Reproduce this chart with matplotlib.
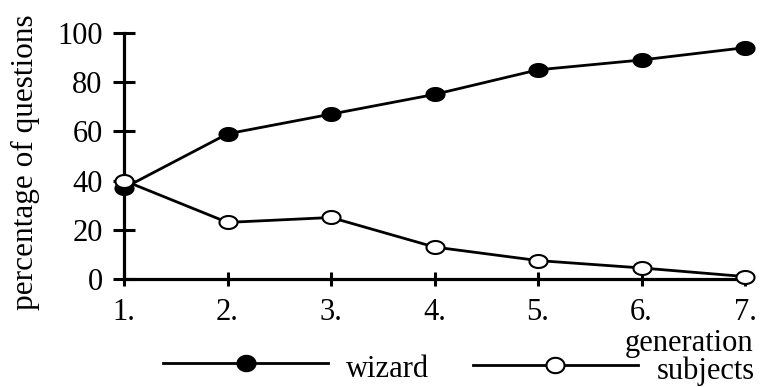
import numpy as np
import matplotlib
matplotlib.use("Agg")
import matplotlib.pyplot as plt
from matplotlib.path import Path
from matplotlib.lines import Line2D

generations = [1, 2, 3, 4, 5, 6, 7]
tick_labels = ["1.", "2.", "3.", "4.", "5.", "6.", "7."]
wizard = [37, 59, 67, 75, 85, 89, 94]
subjects = [40, 23, 25, 13, 7.5, 4.5, 1]

plt.rcParams['font.family'] = ['Liberation Serif', 'DejaVu Serif']
FS = 22


def ellipse_marker(ratio):
    t = np.linspace(0, 2 * np.pi, 60)
    return Path(np.column_stack([np.cos(t), ratio * np.sin(t)]), closed=True)


plot_marker = ellipse_marker(0.72)
legend_marker = ellipse_marker(0.85)

fig = plt.figure(figsize=(7.61, 3.87), dpi=100)
ax = fig.add_axes([0.163, 0.279, 0.816, 0.636])

lw = 2.0
ax.plot(generations, wizard, color='black', lw=lw, marker=plot_marker, ms=13,
        mfc='black', mec='black', mew=1.5, clip_on=False, zorder=3)
ax.plot(generations, subjects, color='black', lw=lw, marker=plot_marker, ms=13,
        mfc='white', mec='black', mew=1.5, clip_on=False, zorder=3)

ax.set_xlim(1, 7)
ax.set_ylim(0, 100)
ax.set_xticks(generations)
ax.set_xticklabels(tick_labels)
ax.set_yticks([0, 20, 40, 60, 80, 100])
for s in ['top', 'right']:
    ax.spines[s].set_visible(False)
for s in ['left', 'bottom']:
    ax.spines[s].set_linewidth(2.3)
ax.tick_params(axis='y', direction='inout', length=16, width=2.2, labelsize=FS, pad=7.5)
ax.tick_params(axis='x', direction='inout', length=10, width=2.2, labelsize=FS, pad=9)
ax.set_ylabel('percentage of questions', fontsize=FS + 0.5)
ax.yaxis.set_label_coords(-0.135, 0.476)

fig.text(0.9895, 0.092, 'generation', fontsize=FS, ha='right', va='baseline')

h1 = Line2D([], [], color='black', lw=lw, marker=legend_marker, ms=13,
            mfc='black', mec='black', mew=1.5)
h2 = Line2D([], [], color='black', lw=lw, marker=legend_marker, ms=13,
            mfc='white', mec='black', mew=1.5)
common = dict(frameon=False, fontsize=FS, handlelength=5.4, handletextpad=0.6,
              handleheight=1.4, numpoints=1, loc='center left', borderpad=0,
              borderaxespad=0)
leg1 = fig.legend([h1], ['wizard'], bbox_to_anchor=(0.2142, 0.052), **common)
leg2 = fig.legend([h2], ['subjects'], bbox_to_anchor=(0.6215, 0.047), **common)

fig.savefig('out.png', dpi=100)
